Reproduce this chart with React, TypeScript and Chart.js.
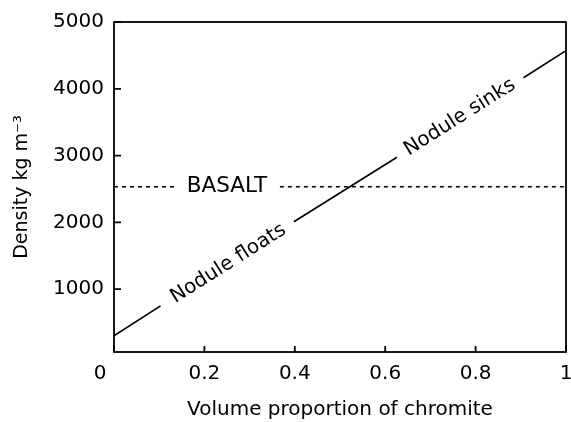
import React, { useEffect, useRef } from 'react';
import { Chart, registerables } from 'chart.js';

Chart.register(...registerables);

// Axis ranges and ticks
const xMin = 0;
const xMax = 1;
const yMin = 60;
const yMax = 5000;
const xTickValues = [0, 0.2, 0.4, 0.6, 0.8, 1];
const yTickValues = [1000, 2000, 3000, 4000, 5000];

// Nodule density line (null = break for a label)
const chromiteX = [0, 0.103, 0.25, 0.398, 0.626, 0.766, 0.906, 1];
const densityY = [303, 750, null, 2010, 2975, null, 4165, 4571];

// Basalt density (dashed, broken for its label)
const basaltX = [0, 0.141, 0.25, 0.367, 1];
const basaltY = [2533, 2533, null, 2533, 2533];

// In-plot labels
const labelTexts = ['Nodule floats', 'Nodule sinks', 'BASALT'];
const labelX = [0.253, 0.765, 0.25];
const labelY = [1383, 3573, 2533];
const labelAlongLine = [true, true, false];
const labelSizes = [20, 20, 21.5];

const FONT = '"DejaVu Sans", "Lucida Grande", sans-serif';
const INK = '#000000';

const annotPlugin = {
  id: 'annot',
  afterDatasetsDraw(chart: any) {
    const { ctx, chartArea: a, scales } = chart;
    const x = scales.x;
    const y = scales.y;
    ctx.save();
    ctx.strokeStyle = INK;
    ctx.lineWidth = 1.8;
    ctx.strokeRect(a.left, a.top, a.right - a.left, a.bottom - a.top);
    // inward tick marks
    ctx.beginPath();
    xTickValues.forEach((v) => {
      const px = x.getPixelForValue(v);
      ctx.moveTo(px, a.bottom);
      ctx.lineTo(px, a.bottom - 6);
    });
    yTickValues.forEach((v) => {
      const py = y.getPixelForValue(v);
      ctx.moveTo(a.left, py);
      ctx.lineTo(a.left + 7, py);
    });
    ctx.stroke();
    // x tick labels
    ctx.fillStyle = INK;
    ctx.font = `20px ${FONT}`;
    ctx.textAlign = 'center';
    ctx.textBaseline = 'middle';
    xTickValues.forEach((v) => {
      const px = x.getPixelForValue(v) + (v === 0 ? -14 : 0);
      ctx.fillText(String(v), px, a.bottom + 22);
    });
    // in-plot labels
    const i0 = 0;
    const i1 = chromiteX.length - 1;
    const dx = x.getPixelForValue(chromiteX[i1]) - x.getPixelForValue(chromiteX[i0]);
    const dy = y.getPixelForValue(densityY[i1] as number) - y.getPixelForValue(densityY[i0] as number);
    const ang = Math.atan2(dy, dx);
    labelTexts.forEach((t, i) => {
      ctx.save();
      ctx.font = `${labelSizes[i]}px ${FONT}`;
      ctx.translate(x.getPixelForValue(labelX[i]), y.getPixelForValue(labelY[i]));
      if (labelAlongLine[i]) ctx.rotate(ang);
      ctx.fillText(t, 0, 0);
      ctx.restore();
    });
    ctx.restore();
  },
};

export default function App() {
  const ref = useRef<HTMLCanvasElement | null>(null);
  useEffect(() => {
    if (!ref.current) return;
    const chart = new Chart(ref.current, {
      type: 'line',
      data: {
        datasets: [
          {
            data: chromiteX.map((v, i) => ({ x: v, y: densityY[i] })) as any,
            borderColor: INK,
            borderWidth: 1.6,
            pointRadius: 0,
            spanGaps: false,
            tension: 0,
          },
          {
            data: basaltX.map((v, i) => ({ x: v, y: basaltY[i] })) as any,
            borderColor: INK,
            borderWidth: 1.4,
            borderDash: [4, 4],
            pointRadius: 0,
            spanGaps: false,
            tension: 0,
          },
        ],
      },
      options: {
        animation: false,
        responsive: true,
        maintainAspectRatio: false,
        layout: { padding: { top: 17, right: 5, left: 0, bottom: 0 } },
        plugins: { legend: { display: false }, tooltip: { enabled: false } },
        scales: {
          x: {
            type: 'linear',
            min: xMin,
            max: xMax,
            grid: { display: false },
            border: { display: false },
            ticks: { display: false },
            afterBuildTicks: (s: any) => {
              s.ticks = xTickValues.map((v) => ({ value: v }));
            },
            afterFit: (s: any) => {
              s.height = 70;
            },
            title: {
              display: true,
              text: 'Volume proportion of chromite',
              color: INK,
              font: { family: FONT, size: 20 },
              padding: { top: 0, bottom: 0 },
            },
          },
          y: {
            type: 'linear',
            min: yMin,
            max: yMax,
            grid: { display: false, drawTicks: false },
            border: { display: false },
            afterBuildTicks: (s: any) => {
              s.ticks = yTickValues.map((v) => ({ value: v }));
            },
            afterFit: (s: any) => {
              s.width = 114;
            },
            ticks: {
              color: INK,
              font: { family: FONT, size: 20 },
              padding: 10,
              callback: (v: any) => String(v),
            },
            title: {
              display: true,
              text: 'Density kg m⁻³',
              color: INK,
              font: { family: FONT, size: 19 },
              padding: { top: 11, bottom: 0 },
            },
          },
        },
      },
      plugins: [annotPlugin],
    });
    return () => chart.destroy();
  }, []);
  return (
    <div style={{ position: 'fixed', left: 0, top: 0, width: 571, height: 422 }}>
      <canvas ref={ref} />
    </div>
  );
}
